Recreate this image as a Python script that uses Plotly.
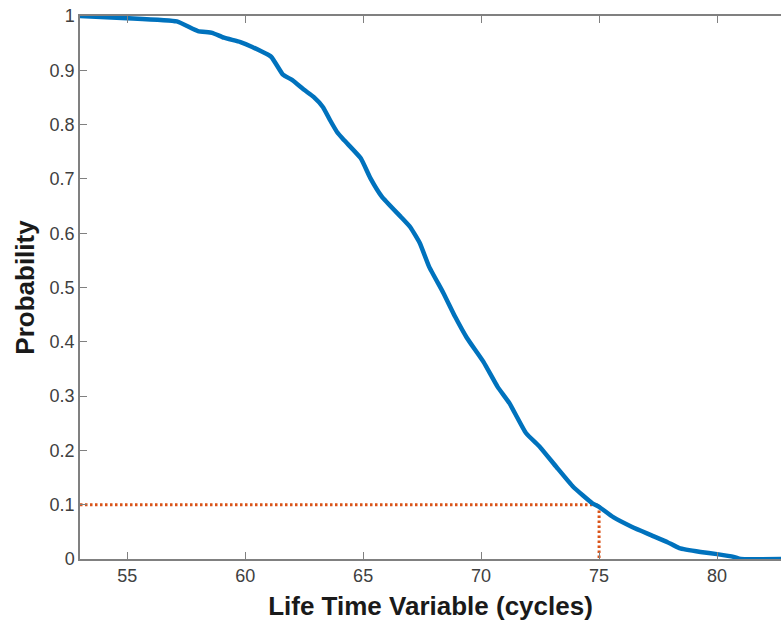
import plotly.graph_objects as go

# Survival curve: lifetime (cycles) vs probability
life_cycles = [53.0, 55.0, 57.1, 58.0, 58.6, 59.1, 59.8, 60.3, 61.1, 61.6, 62.0, 62.5,
               62.9, 63.3, 63.6, 63.9, 64.2, 64.9, 65.3, 65.8, 66.6, 67.0, 67.4, 67.8,
               68.4, 68.9, 69.4, 70.1, 70.7, 71.2, 71.9, 72.5, 73.2, 73.9, 74.7, 75.0,
               75.6, 76.4, 77.2, 77.9, 78.4, 79.3, 80.0, 80.7, 81.0, 82.71]
probability = [1.0, 0.996, 0.99, 0.972, 0.969, 0.96, 0.952, 0.943, 0.925, 0.892, 0.882, 0.864,
               0.851, 0.832, 0.808, 0.786, 0.771, 0.738, 0.702, 0.667, 0.630, 0.611, 0.582, 0.538,
               0.490, 0.446, 0.407, 0.363, 0.317, 0.287, 0.232, 0.206, 0.169, 0.133, 0.103, 0.096,
               0.077, 0.059, 0.044, 0.031, 0.020, 0.013, 0.009, 0.004, 0.0, 0.0]

# Reference marker at 10% probability
ref_cycle = 75.0
ref_prob = 0.1
x_min = 53.0
x_max = 82.71

x_ticks = [55, 60, 65, 70, 75, 80]
y_ticks = [0, 0.1, 0.2, 0.3, 0.4, 0.5, 0.6, 0.7, 0.8, 0.9, 1]
y_tick_text = ["0", "0.1", "0.2", "0.3", "0.4", "0.5", "0.6", "0.7", "0.8", "0.9", "1"]

fig = go.Figure()
fig.add_trace(go.Scatter(x=[x_min, ref_cycle, ref_cycle], y=[ref_prob, ref_prob, 0],
                         mode="lines", line=dict(color="#D95319", width=3, dash="2.5px,2.5px"),
                         showlegend=False, hoverinfo="skip"))
fig.add_trace(go.Scatter(x=life_cycles, y=probability, mode="lines",
                         line=dict(color="#0072BD", width=4.5, shape="spline", smoothing=0.4),
                         showlegend=False))

axis_font = dict(family="Liberation Sans, Arial", size=26, color="#1a1a1a")
fig.update_layout(
    width=781, height=630,
    margin=dict(l=80, r=0, t=16, b=71),
    paper_bgcolor="white", plot_bgcolor="white",
    font=dict(family="Liberation Sans, Arial", size=18, color="#404040"),
    xaxis=dict(range=[x_min, x_max], tickvals=x_ticks, ticks="inside", ticklen=7,
               tickcolor="#808080", showline=True, linecolor="#808080", linewidth=1.5,
               mirror="ticks", showgrid=False, zeroline=False,
               title=dict(text="<b>Life Time Variable (cycles)</b>", font=axis_font, standoff=11)),
    yaxis=dict(range=[0, 1], tickvals=y_ticks, ticktext=y_tick_text, ticks="inside", ticklen=7,
               tickcolor="#808080", showline=True, linecolor="#808080", linewidth=1.5,
               showgrid=False, zeroline=False,
               title=dict(text="<b>Probability</b>", font=axis_font, standoff=8)),
)
fig.write_html("out.html")
